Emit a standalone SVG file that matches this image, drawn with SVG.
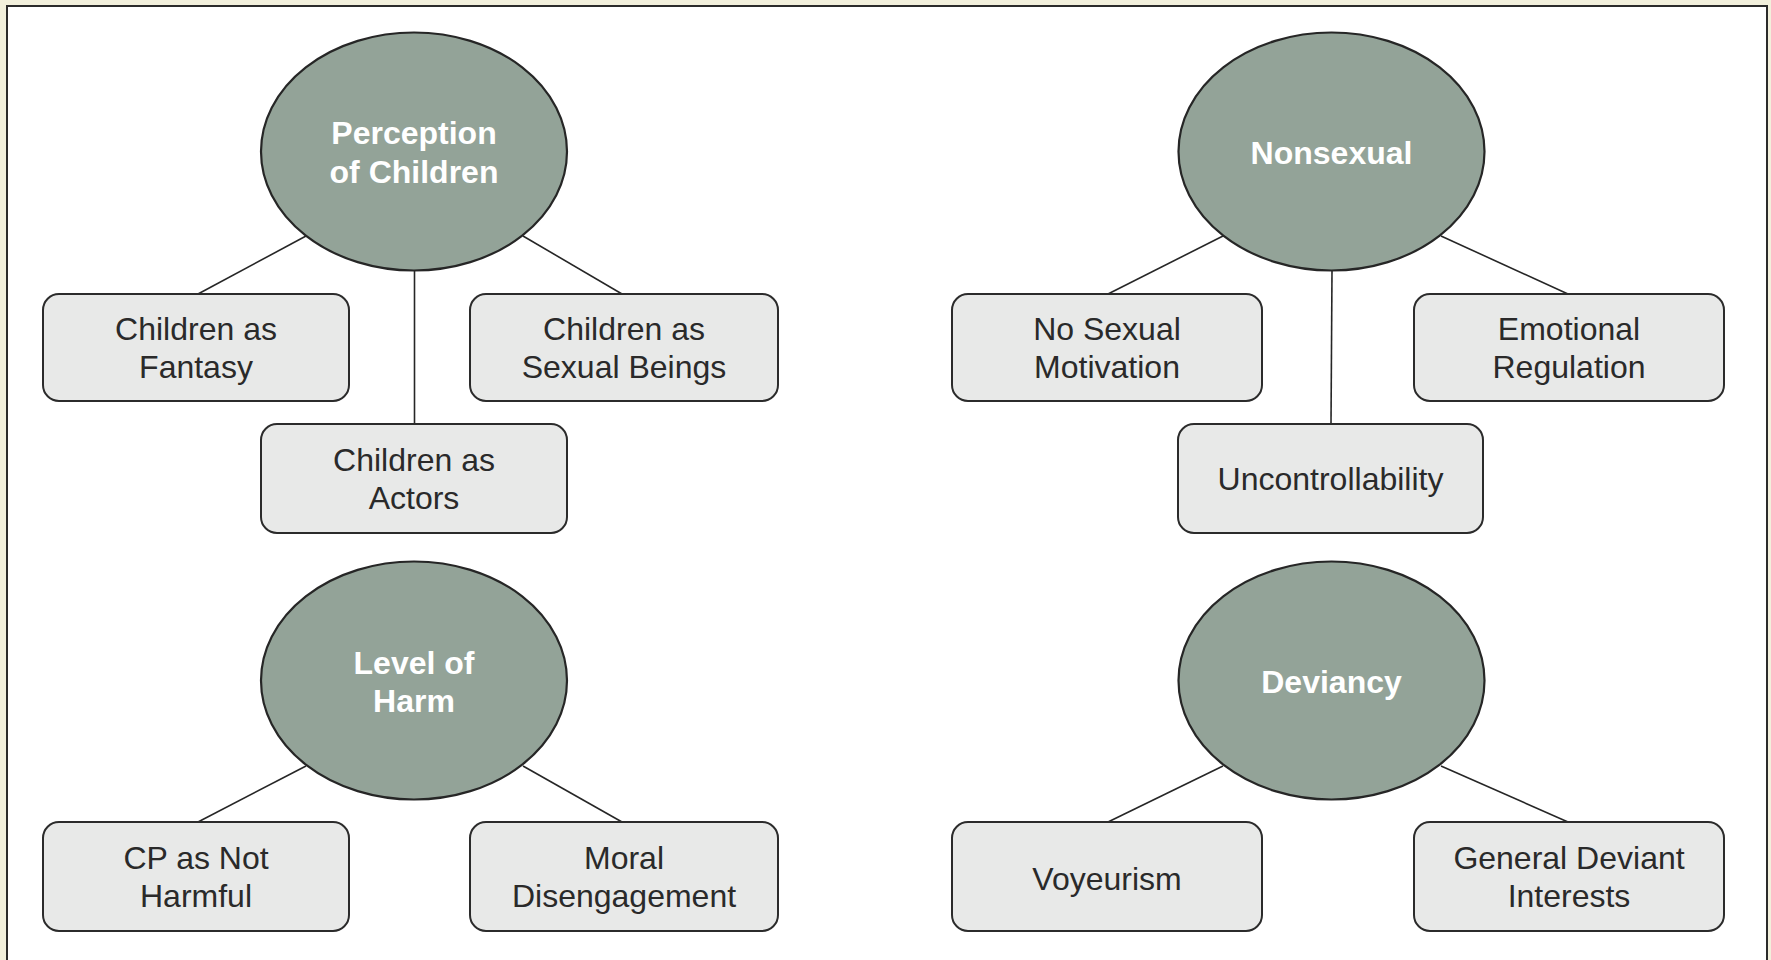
<svg xmlns="http://www.w3.org/2000/svg" width="1771" height="960" viewBox="0 0 1771 960">
<style>
.ell{fill:#93a398;stroke:#262626;stroke-width:2.2}
.box{fill:#e8e9e8;stroke:#2b2b2b;stroke-width:2}
.et{font-family:"Liberation Sans",Arial,sans-serif;font-weight:bold;font-size:32px;fill:#ffffff;text-anchor:middle}
.bt{font-family:"Liberation Sans",Arial,sans-serif;font-size:32px;fill:#2a2a2a;text-anchor:middle}
.con line{stroke:#262626;stroke-width:1.6}
</style>
<rect x="0" y="0" width="1771" height="960" fill="#f2f0dc"/>
<rect x="7" y="6" width="1760" height="970" fill="#ffffff" stroke="#2b2b2b" stroke-width="2"/>
<g id="connectors" class="con">
<line x1="306" y1="236" x2="198" y2="294"/>
<line x1="523" y1="236" x2="622" y2="294"/>
<line x1="414.5" y1="271" x2="414.5" y2="424"/>
<line x1="1223" y1="236" x2="1108" y2="294"/>
<line x1="1441" y1="236" x2="1568" y2="294"/>
<line x1="1332" y1="271" x2="1331" y2="424"/>
<line x1="306" y1="766" x2="198" y2="822"/>
<line x1="523" y1="766" x2="622" y2="822"/>
<line x1="1223" y1="766" x2="1108" y2="822"/>
<line x1="1441" y1="766" x2="1568" y2="822"/>
</g>
<g id="perception">
<ellipse class="ell" cx="414" cy="151.5" rx="153" ry="119"/>
<text class="et" x="414" y="144">Perception</text>
<text class="et" x="414" y="183">of Children</text>
</g>
<g id="nonsexual">
<ellipse class="ell" cx="1331.5" cy="151.5" rx="153" ry="119"/>
<text class="et" x="1331.5" y="164">Nonsexual</text>
</g>
<g id="harm">
<ellipse class="ell" cx="414" cy="680.5" rx="153" ry="119"/>
<text class="et" x="414" y="674">Level of</text>
<text class="et" x="414" y="712">Harm</text>
</g>
<g id="deviancy">
<ellipse class="ell" cx="1331.5" cy="680.5" rx="153" ry="119"/>
<text class="et" x="1331.5" y="693">Deviancy</text>
</g>
<g id="fantasy">
<rect class="box" x="43" y="294" width="306" height="107" rx="16"/>
<text class="bt" x="196" y="340">Children as</text>
<text class="bt" x="196" y="378">Fantasy</text>
</g>
<g id="sexualbeings">
<rect class="box" x="470" y="294" width="308" height="107" rx="16"/>
<text class="bt" x="624" y="340">Children as</text>
<text class="bt" x="624" y="378">Sexual Beings</text>
</g>
<g id="actors">
<rect class="box" x="261" y="424" width="306" height="109" rx="16"/>
<text class="bt" x="414" y="471">Children as</text>
<text class="bt" x="414" y="509">Actors</text>
</g>
<g id="nosexual">
<rect class="box" x="952" y="294" width="310" height="107" rx="16"/>
<text class="bt" x="1107" y="340">No Sexual</text>
<text class="bt" x="1107" y="378">Motivation</text>
</g>
<g id="emotional">
<rect class="box" x="1414" y="294" width="310" height="107" rx="16"/>
<text class="bt" x="1569" y="340">Emotional</text>
<text class="bt" x="1569" y="378">Regulation</text>
</g>
<g id="uncontrollability">
<rect class="box" x="1178" y="424" width="305" height="109" rx="16"/>
<text class="bt" x="1330.5" y="490">Uncontrollability</text>
</g>
<g id="notharmful">
<rect class="box" x="43" y="822" width="306" height="109" rx="16"/>
<text class="bt" x="196" y="869">CP as Not</text>
<text class="bt" x="196" y="907">Harmful</text>
</g>
<g id="moral">
<rect class="box" x="470" y="822" width="308" height="109" rx="16"/>
<text class="bt" x="624" y="869">Moral</text>
<text class="bt" x="624" y="907">Disengagement</text>
</g>
<g id="voyeurism">
<rect class="box" x="952" y="822" width="310" height="109" rx="16"/>
<text class="bt" x="1107" y="890">Voyeurism</text>
</g>
<g id="general">
<rect class="box" x="1414" y="822" width="310" height="109" rx="16"/>
<text class="bt" x="1569" y="869">General Deviant</text>
<text class="bt" x="1569" y="907">Interests</text>
</g>
</svg>
